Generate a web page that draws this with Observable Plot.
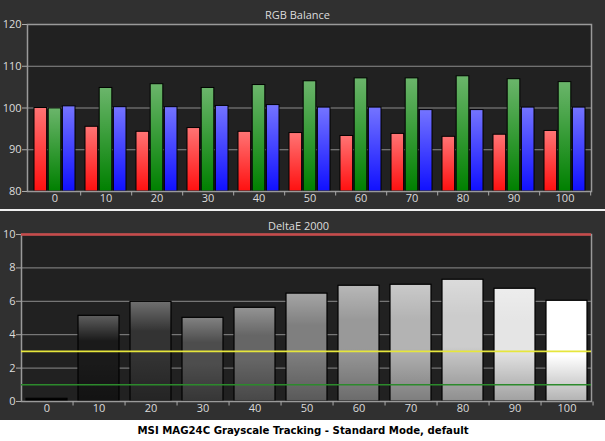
<!DOCTYPE html>
<html>
<head>
<meta charset="utf-8">
<script src="https://cdn.jsdelivr.net/npm/d3@7"></script>
<script src="https://cdn.jsdelivr.net/npm/@observablehq/plot@0.6"></script>
<style>
  html, body { margin: 0; padding: 0; background: #ffffff; }
  #root { width: 605px; background: #303030; }
  #sep { height: 2px; background: #f0f0f0; }
  #caption { height: 21px; background: #ffffff; text-align: center; font: bold 11.3px "DejaVu Sans Condensed", "DejaVu Sans", sans-serif; color: #000; line-height: 21px; padding-left: 1px; }
  svg { display: block; }
</style>
</head>
<body>
<div id="root">
  <div id="top"></div>
  <div id="sep"></div>
  <div id="bottom"></div>
  <div id="caption">MSI MAG24C Grayscale Tracking - Standard Mode, default</div>
</div>
<script>
// ---- data ----
const levels = ["0", "10", "20", "30", "40", "50", "60", "70", "80", "90", "100"];
const redValues   = [100.0, 95.5, 94.3, 95.2, 94.3, 94.0, 93.3, 93.8, 93.1, 93.6, 94.5];
const greenValues = [99.9, 104.8, 105.7, 104.8, 105.5, 106.4, 107.1, 107.1, 107.6, 106.9, 106.2];
const blueValues  = [100.4, 100.2, 100.2, 100.5, 100.7, 100.1, 100.1, 99.5, 99.5, 100.1, 100.1];
const deltaE      = [0.16, 5.13, 5.97, 5.01, 5.61, 6.46, 6.93, 6.99, 7.29, 6.75, 6.03];
const rgbTicks = [80, 90, 100, 110, 120];
const deTicks = [0, 2, 4, 6, 8, 10];
const deRefLevels = [10, 3, 1];
const deRefColors = ["#c84a4a", "#e6e63c", "#2c8a2c"];
const topTitle = "RGB Balance";
const bottomTitle = "DeltaE 2000";

const rgbRows = levels.map((l, i) => ({level: l, r: redValues[i], g: greenValues[i], b: blueValues[i]}));
const deRows = levels.map((l, i) => ({level: l, de: deltaE[i]}));

const font = '"Open Sans", "Noto Sans", sans-serif';
const W = 605;

// small downward tick symbol for band boundaries
const tickDown = { draw(ctx, size) { ctx.moveTo(0, 0); ctx.lineTo(0, 4); } };

function defs(id, stops) {
  return () => {
    const d = d3.create("svg:defs");
    const g = d.append("linearGradient").attr("id", id).attr("x1", 0).attr("y1", 0).attr("x2", 0).attr("y2", 1);
    for (const [o, c, a] of stops) g.append("stop").attr("offset", o).attr("stop-color", c).attr("stop-opacity", a);
    return d.node();
  };
}

// ---- top chart: RGB balance ----
{
  const H = 209, mt = 24, mb = 18, ml = 27, mr = 14;
  const pi = 0.2, po = 0.09;
  const step = (W - ml - mr) / (levels.length - pi + 2 * po);
  const bw = step * (1 - pi);
  const barW = bw * 0.31, gap = (bw - 3 * barW) / 2;
  const bar = (key, color, il, ir) => [
    Plot.barY(rgbRows, {x: "level", y1: rgbTicks[0], y2: key, fill: color, insetLeft: il, insetRight: ir}),
    Plot.barY(rgbRows, {x: "level", y1: rgbTicks[0], y2: key, fill: "url(#rgbShine)", stroke: "#000", strokeWidth: 1, insetLeft: il, insetRight: ir})
  ];
  const chart = Plot.plot({
    width: W, height: H,
    marginTop: mt, marginBottom: mb, marginLeft: ml, marginRight: mr,
    style: {background: "transparent", color: "#dcdcdc", fontFamily: font, fontSize: "11px"},
    x: {type: "band", domain: levels, paddingInner: pi, paddingOuter: po},
    y: {domain: [rgbTicks[0], rgbTicks[rgbTicks.length - 1]]},
    marks: [
      defs("rgbShine", [[0, "#fff", 0.42], [1, "#fff", 0]]),
      Plot.frame({fill: "#212121"}),
      Plot.ruleY(rgbTicks.slice(1, -1), {stroke: "#8c8c8c", strokeWidth: 1}),
      ...bar("r", "#ff1010", 0, bw - barW),
      ...bar("g", "#008000", barW + gap, barW + gap),
      ...bar("b", "#1010ff", bw - barW, 0),
      Plot.frame({stroke: "#9a9a9a", strokeWidth: 1.5}),
      Plot.axisY({ticks: rgbTicks, tickSize: 5, tickPadding: 1, label: null, stroke: "#aaa"}),
      Plot.axisX({tickSize: 0, tickPadding: 3, label: null}),
      Plot.dot(levels, {x: d => d, y: rgbTicks[0], dx: step / 2, symbol: tickDown, stroke: "#aaa", fill: "none", strokeWidth: 1}),
      Plot.text([topTitle], {frameAnchor: "top", lineAnchor: "middle", dy: -9, dx: -12, fill: "#dcdcdc"})
    ]
  });
  document.getElementById("top").append(chart);
}

// ---- bottom chart: DeltaE 2000 ----
{
  const H = 209, mt = 23, mb = 19, ml = 21, mr = 14;
  const pi = 0.22, po = 0.08;
  const step = (W - ml - mr) / (levels.length - pi + 2 * po);
  const grayOf = d => { const g = Math.round(+d.level * 2.55); return `rgb(${g},${g},${g})`; };
  const chart = Plot.plot({
    width: W, height: H,
    marginTop: mt, marginBottom: mb, marginLeft: ml, marginRight: mr,
    style: {background: "transparent", color: "#dcdcdc", fontFamily: font, fontSize: "11px"},
    x: {type: "band", domain: levels, paddingInner: pi, paddingOuter: po},
    y: {domain: [deTicks[0], deTicks[deTicks.length - 1]]},
    color: {type: "identity"},
    marks: [
      defs("deShine", [[0, "#fff", 0.3], [0.3, "#fff", 0], [0.55, "#000", 0], [1, "#000", 0.3]]),
      Plot.frame({fill: "#212121"}),
      Plot.ruleY(deTicks.slice(1, -1), {stroke: "#8c8c8c", strokeWidth: 1}),
      Plot.barY(deRows, {x: "level", y: "de", fill: grayOf}),
      Plot.barY(deRows, {x: "level", y: "de", fill: "url(#deShine)", stroke: "#000", strokeWidth: 1.2}),
      Plot.frame({stroke: "#9a9a9a", strokeWidth: 1.5}),
      Plot.ruleY(deRefLevels, {y: d => d, stroke: (d, i) => deRefColors[i], strokeWidth: (d, i) => i === 0 ? 2.5 : 1.6}),
      Plot.axisY({ticks: deTicks, tickSize: 5, tickPadding: 1, label: null, stroke: "#aaa"}),
      Plot.axisX({tickSize: 0, tickPadding: 3, label: null}),
      Plot.dot(levels, {x: d => d, y: deTicks[0], dx: step / 2, symbol: tickDown, stroke: "#aaa", fill: "none", strokeWidth: 1}),
      Plot.text([bottomTitle], {frameAnchor: "top", lineAnchor: "middle", dy: -8, dx: -8, fill: "#dcdcdc"})
    ]
  });
  document.getElementById("bottom").append(chart);
}
</script>
</body>
</html>
